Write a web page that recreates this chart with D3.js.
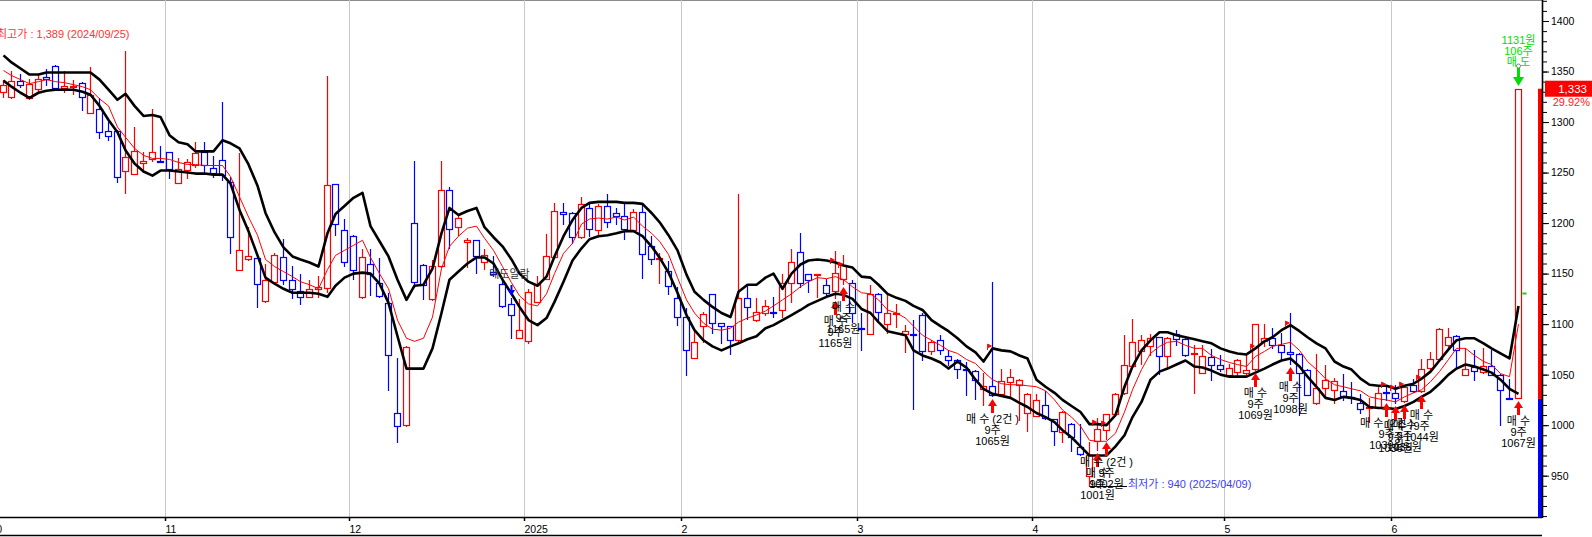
<!DOCTYPE html>
<meta charset="utf-8">
<style>
body { margin: 0; background: #fff; }
svg { display: block; }
text { font-family: "Liberation Sans", "Noto Sans CJK KR", sans-serif; }
</style>
<body>
<script src="https://d3js.org/d3.v7.min.js"></script>
<script>
// trading sessions per month (10/02 sits just off the left edge)
var tradingDays = {
  "2024-10": [2,4,7,8,10,11,14,15,16,17,18,21,22,23,24,25,28,29,30,31],
  "2024-11": [1,4,5,6,7,8,11,12,13,14,15,18,19,20,21,22,25,26,27,28,29],
  "2024-12": [2,3,4,5,6,9,10,11,12,13,16,17,18,19,20,23,24,26,27,30],
  "2025-01": [2,3,6,7,8,9,10,13,14,15,16,17,20,21,22,23,24,31],
  "2025-02": [3,4,5,6,7,10,11,12,13,14,17,18,19,20,21,24,25,26,27,28],
  "2025-03": [4,5,6,7,10,11,12,13,14,17,18,19,20,21,24,25,26,27,28,31],
  "2025-04": [1,2,3,4,7,8,9,10,11,14,15,16,17,18,21,22,23,24,25,28,29,30],
  "2025-05": [2,7,8,9,12,13,14,15,16,19,20,21,22,23,26,27,28,29,30],
  "2025-06": [2,4,5,9,10,11,12,13,16,17,18,19,20,23,24]
};
var monthLabels = ["10", "11", "12", "2025", "2", "3", "4", "5", "6"];

// daily candles from 2024-10-04
var open = [
  1330,1325,1341,1324,1333,1345,1355,1334,1335,1339,
  1309,1313,1291,1291,1252,1249,1259,1263,1261,1270,
  1240,1253,1257,1270,1255,1262,1241,1154,1164,1165,
  1123,1142,1166,1144,1133,1127,1135,1136,1239,1193,
  1187,1127,1160,1141,1121,1012,1000,1200,1159,1125,
  1158,1233,1196,1181,1183,1161,1152,1140,1120,1086,
  1083,1122,1145,1166,1211,1210,1186,1215,1193,1217,
  1210,1207,1193,1211,1177,1164,1153,1126,1107,1066,
  1098,1130,1101,1098,1084,1126,1104,1111,1112,1114,
  1141,1171,1150,1149,1139,1133,1145,1141,1096,1090,
  1130,1100,1110,1090,1090,1109,1073,1084,1068,1064,
  1056,1054,1036,1039,1031,1043,1040,1012,1009,1020,
  1006,993,1001,978,950,984,995,1011,1032,1059,
  1073,1078,1087,1068,1090,1085,1070,1052,1067,1060,
  1050,1053,1052,1056,1083,1086,1079,1072,1070,1055,
  1022,1037,1035,1034,1028,1022,1017,1018,1033,1032,
  1024,1040,1034,1057,1065,1079,1088,1050,1058,1053,
  1059,1050,1027,1027
];
var high = [
  1342,1351,1348,1343,1348,1353,1356,1351,1342,1340,
  1354,1324,1300,1292,1370,1295,1270,1313,1276,1270,
  1264,1263,1280,1280,1266,1320,1246,1269,1196,1166,
  1160,1170,1184,1158,1150,1144,1148,1346,1239,1204,
  1188,1174,1174,1165,1131,1066,1078,1261,1160,1163,
  1261,1236,1207,1185,1183,1174,1167,1145,1126,1125,
  1135,1148,1189,1220,1220,1211,1226,1219,1219,1229,
  1215,1220,1214,1218,1187,1170,1162,1137,1116,1093,
  1112,1130,1101,1098,1229,1140,1126,1124,1127,1150,
  1174,1190,1150,1150,1145,1172,1168,1144,1111,1139,
  1131,1130,1120,1099,1104,1111,1084,1089,1074,1065,
  1063,1055,1052,1142,1056,1056,1046,1032,1031,1034,
  1006,1014,1002,1001,983,1007,1011,1032,1089,1105,
  1089,1090,1087,1087,1094,1086,1079,1079,1075,1069,
  1061,1065,1071,1100,1100,1096,1091,1111,1071,1056,
  1070,1060,1047,1051,1043,1031,1027,1040,1038,1040,
  1039,1046,1065,1072,1096,1096,1089,1076,1074,1076,
  1074,1051,1046,1333
];
var low = [
  1325,1324,1335,1323,1329,1337,1332,1330,1328,1312,
  1309,1284,1282,1241,1230,1249,1251,1261,1260,1245,
  1240,1245,1256,1250,1246,1243,1170,1154,1163,1117,
  1122,1141,1140,1126,1120,1127,1127,1132,1188,1158,
  1145,1126,1129,1127,1035,983,999,1137,1125,1124,
  1157,1175,1188,1157,1151,1155,1148,1117,1086,1086,
  1081,1122,1145,1165,1199,1180,1185,1187,1187,1196,
  1199,1184,1192,1146,1160,1141,1130,1099,1050,1066,
  1082,1091,1081,1070,1083,1105,1103,1109,1107,1107,
  1122,1137,1132,1127,1127,1126,1140,1102,1074,1090,
  1104,1091,1097,1072,1016,1064,1070,1070,1060,1047,
  1030,1026,1020,1029,1030,1028,1005,994,1009,1006,
  980,983,974,970,940,975,986,1010,1031,1058,
  1061,1069,1051,1056,1079,1068,1032,1052,1045,1054,
  1050,1048,1051,1055,1078,1076,1065,1061,1010,1030,
  1021,1027,1022,1025,1022,1012,1003,1017,1025,1022,
  1023,1033,1033,1056,1065,1075,1058,1050,1045,1052,
  1050,1000,1026,1027
];
var close = [
  1337,1341,1337,1338,1343,1343,1334,1336,1336,1325,
  1327,1290,1286,1246,1265,1271,1261,1270,1260,1254,
  1254,1260,1269,1257,1250,1248,1186,1173,1167,1140,
  1144,1168,1144,1135,1127,1135,1137,1238,1199,1161,
  1154,1166,1150,1128,1069,999,1077,1142,1139,1158,
  1233,1194,1205,1183,1167,1168,1150,1118,1109,1094,
  1132,1140,1167,1212,1209,1186,1219,1194,1217,1201,
  1207,1194,1211,1169,1164,1165,1138,1107,1074,1082,
  1110,1101,1098,1084,1126,1117,1112,1118,1111,1141,
  1161,1141,1144,1150,1131,1151,1159,1111,1095,1130,
  1112,1111,1111,1093,1089,1073,1082,1074,1064,1056,
  1055,1045,1039,1030,1044,1048,1045,1031,1025,1007,
  994,1013,988,971,970,996,1011,1031,1060,1082,
  1084,1086,1068,1086,1085,1069,1071,1068,1060,1056,
  1057,1064,1055,1100,1086,1079,1072,1070,1052,1030,
  1037,1045,1044,1029,1027,1016,1018,1032,1032,1027,
  1038,1034,1056,1065,1095,1087,1074,1056,1054,1059,
  1050,1035,1026,1333
];

// envelope lines and moving average
var upper = [
  1366,1359,1353,1347,1347,1349,1349,1349,1349,1349,
  1349,1342,1332,1322,1328,1316,1306,1307,1305,1287,
  1280,1278,1271,1271,1271,1282,1279,1274,1258,1237,
  1210,1191,1176,1167,1164,1161,1157,1190,1209,1217,
  1225,1230,1197,1182,1167,1144,1124,1138,1139,1155,
  1190,1215,1208,1212,1215,1196,1186,1177,1164,1150,
  1142,1138,1147,1167,1187,1203,1215,1220,1221,1221,
  1221,1220,1220,1219,1210,1201,1188,1173,1149,1132,
  1124,1117,1111,1107,1132,1139,1139,1146,1150,1135,
  1150,1159,1163,1164,1163,1161,1158,1156,1147,1146,
  1139,1130,1126,1123,1118,1114,1104,1098,1093,1086,
  1078,1072,1063,1076,1074,1073,1069,1066,1045,1038,
  1032,1025,1019,1013,1001,1001,1000,1010,1038,1058,
  1074,1084,1092,1092,1089,1087,1085,1083,1081,1076,
  1073,1071,1070,1076,1083,1087,1094,1099,1093,1087,
  1081,1076,1063,1058,1055,1046,1040,1039,1039,1036,
  1039,1041,1046,1053,1064,1075,1084,1086,1086,1081,
  1076,1071,1066,1118
];
var lower = [
  1341,1335,1329,1324,1329,1331,1332,1332,1332,1330,
  1327,1316,1302,1290,1272,1259,1251,1247,1252,1252,
  1251,1250,1249,1249,1248,1248,1239,1213,1192,1168,
  1146,1140,1135,1131,1131,1131,1130,1127,1138,1146,
  1150,1151,1150,1140,1121,1088,1056,1056,1056,1076,
  1111,1144,1152,1160,1166,1166,1160,1144,1130,1117,
  1104,1099,1106,1122,1142,1163,1175,1184,1187,1188,
  1190,1192,1192,1187,1177,1166,1151,1131,1109,1094,
  1084,1078,1074,1078,1081,1085,1088,1096,1099,1104,
  1109,1114,1119,1123,1127,1130,1129,1125,1115,1111,
  1102,1093,1091,1089,1074,1069,1066,1062,1056,1063,
  1057,1045,1036,1031,1029,1027,1022,1018,1012,1008,
  1003,995,988,979,970,970,970,979,990,1008,
  1023,1045,1053,1056,1060,1064,1058,1057,1054,1050,
  1048,1048,1048,1052,1056,1060,1064,1066,1058,1048,
  1038,1027,1025,1028,1027,1025,1018,1017,1017,1016,
  1019,1023,1028,1033,1041,1050,1056,1060,1058,1055,
  1052,1045,1036,1031
];
var ma = [
  1351,1346,1342,1338,1340,1342,1340,1339,1337,1335,
  1332,1323,1316,1295,1285,1274,1267,1264,1264,1263,
  1260,1258,1258,1257,1257,1257,1246,1226,1206,1188,
  1164,1157,1152,1147,1142,1139,1135,1154,1168,1173,
  1178,1183,1166,1150,1135,1104,1086,1083,1086,1107,
  1155,1177,1187,1195,1197,1185,1173,1157,1141,1128,
  1120,1118,1130,1150,1170,1180,1199,1204,1205,1204,
  1206,1203,1206,1197,1190,1182,1169,1146,1124,1111,
  1101,1095,1094,1096,1102,1106,1109,1113,1118,1124,
  1130,1137,1142,1146,1145,1147,1144,1137,1131,1130,
  1124,1114,1111,1106,1098,1089,1084,1079,1074,1071,
  1065,1061,1053,1045,1041,1040,1040,1039,1038,1034,
  1025,1015,1008,999,985,984,984,992,1013,1035,
  1055,1071,1078,1082,1083,1079,1076,1076,1069,1065,
  1062,1060,1058,1068,1073,1078,1080,1082,1074,1063,
  1055,1046,1040,1038,1036,1034,1028,1026,1025,1023,
  1028,1032,1035,1043,1053,1065,1076,1076,1069,1063,
  1060,1051,1048,1100
];

// trade markers (candle index into the arrays above)
var buyIdx = [95, 96, 113, 125, 126, 143, 147, 158, 159, 160, 162, 173];
var buyTitle = ["매 수", "매 수", "매 수 (2건 )", "매 수", "매 수 (2건 )", "매 수", "매 수", "매 수 (2건 )", "매 수", "매 수", "매 수", "매 수"];
var buyQty = ["9주", "9주", "9주", "9주", "9주", "9주", "9주", "9주", "9주", "9주", "9주", "9주"];
var buyPrice = ["1165원", "1165원", "1065원", "1001원", "1002원", "1069원", "1098원", "1039원", "1036원", "1035원", "1044원", "1067원"];
var sellIdx = 173, sellPrice = 1131, sellLines = ["1131원", "106주", "매 도"];
var alertIdx = 58, alertText = "매도알람";
var hiLabel = "최고가 : 1,389 (2024/09/25)", hiValue = 1389;
var loIdx = 124, loLabel = "최저가 : 940 (2025/04/09)";
var prevClose = 1026;

var W = 1592, H = 537, axisX = 1542, axisY = 517;
var days = [];
Object.keys(tradingDays).forEach(function(m) {
  tradingDays[m].forEach(function(d) { days.push(m + "-" + (d < 10 ? "0" : "") + d); });
});
var candleDays = days.slice(1);
var monthStarts = Object.keys(tradingDays).map(function(m) { return m + "-" + (tradingDays[m][0] < 10 ? "0" : "") + tradingDays[m][0]; });

var step = 8.757;
var x = d3.scaleBand().domain(days).range([-10.44, -10.44 + step * days.length]).padding(0);
var y = d3.scaleLinear().domain([909.1, 1420.8]).range([axisY, 0]);
var cx = function(i) { return Math.round(x(candleDays[i]) + x.bandwidth() / 2) + 0.5; };

var svg = d3.select("body").append("svg").attr("width", W).attr("height", H);

// frame + month grid
svg.append("line").attr("x1", 0).attr("x2", axisX).attr("y1", 0.5).attr("y2", 0.5)
  .attr("stroke", "#8c8c8c");
svg.append("g").selectAll("line").data(monthStarts).join("line")
  .attr("x1", function(d) { return Math.round(x(d)) + 0.5; })
  .attr("x2", function(d) { return Math.round(x(d)) + 0.5; })
  .attr("y1", 0).attr("y2", axisY)
  .attr("stroke", "#c8c8c8");

// candles
var idx = d3.range(candleDays.length);
var col = function(i) { return close[i] >= open[i] ? "#ff0000" : "#0000ff"; };
var cg = svg.append("g");
cg.selectAll("line").data(idx).join("line")
  .attr("x1", cx).attr("x2", cx)
  .attr("y1", function(i) { return Math.round(y(high[i])); })
  .attr("y2", function(i) { return Math.round(y(low[i])) + 1; })
  .attr("stroke", col).attr("stroke-width", 1.2);
cg.selectAll("rect").data(idx).join("rect")
  .attr("x", function(i) { return cx(i) - 3; })
  .attr("width", 6)
  .attr("y", function(i) { return Math.round(y(Math.max(open[i], close[i]))) + 0.5; })
  .attr("height", function(i) {
    return Math.max(1, Math.round(y(Math.min(open[i], close[i]))) - Math.round(y(Math.max(open[i], close[i]))));
  })
  .attr("fill", "#fff").attr("stroke", col).attr("stroke-width", 1.2);

// bands + average
var lineOf = function(arr) {
  return d3.line().x(function(d, i) { return cx(i); }).y(function(d) { return y(d); })(arr);
};
svg.append("path").attr("d", lineOf(upper)).attr("fill", "none").attr("stroke", "#000")
  .attr("stroke-width", 2.6).attr("stroke-linejoin", "round");
svg.append("path").attr("d", lineOf(lower)).attr("fill", "none").attr("stroke", "#000")
  .attr("stroke-width", 2.6).attr("stroke-linejoin", "round");
svg.append("path").attr("d", lineOf(ma)).attr("fill", "none").attr("stroke", "#ff0000")
  .attr("stroke-width", 1);

// signal flags on the upper band
var flags = buyIdx.filter(function(i) { return i !== sellIdx; });
svg.append("g").selectAll("path").data(flags).join("path")
  .attr("d", function(i) {
    var fx = cx(i) - 5, fy = Math.round(y(upper[i]));
    return "M" + fx + "," + (fy + 2) + "V" + (fy - 4) + "L" + (fx + 4) + "," + (fy - 2) + "L" + fx + "," + fy + "Z";
  })
  .attr("fill", "#ff0000").attr("stroke", "#ff0000").attr("stroke-width", 0.8);

// buy annotations
var ag = svg.append("g").attr("font-size", 11).attr("text-anchor", "middle");
buyIdx.forEach(function(i, k) {
  var c = cx(i), t = Math.round(y(low[i])) + 3;
  ag.append("path")
    .attr("d", "M" + c + "," + t + "L" + (c + 4.5) + "," + (t + 7) + "L" + (c + 1.5) + "," + (t + 7) +
      "L" + (c + 1.5) + "," + (t + 14) + "L" + (c - 1.5) + "," + (t + 14) + "L" + (c - 1.5) + "," + (t + 7) +
      "L" + (c - 4.5) + "," + (t + 7) + "Z")
    .attr("fill", "#ff0000");
  [buyTitle[k], buyQty[k], buyPrice[k]].forEach(function(s, r) {
    ag.append("text").attr("x", c).attr("y", t + 24 + r * 11).attr("fill", "#000").text(s);
  });
});

// sell annotation
(function() {
  var c = cx(sellIdx), t = Math.round(y(high[sellIdx])) - 3;
  ag.append("path")
    .attr("d", "M" + c + "," + t + "L" + (c + 5.5) + "," + (t - 9) + "L" + (c + 1.5) + "," + (t - 9) +
      "L" + (c + 1.5) + "," + (t - 18) + "L" + (c - 1.5) + "," + (t - 18) + "L" + (c - 1.5) + "," + (t - 9) +
      "L" + (c - 5.5) + "," + (t - 9) + "Z")
    .attr("fill", "#00dd00");
  ag.append("circle").attr("cx", c).attr("cy", t - 20).attr("r", 2)
    .attr("fill", "#fff").attr("stroke", "#666").attr("stroke-width", 0.8);
  sellLines.forEach(function(s, r) {
    ag.append("text").attr("x", c).attr("y", t - 42 + r * 11).attr("fill", "#00dd00").text(s);
  });
  ag.append("line").attr("x1", c + 4).attr("x2", c + 8)
    .attr("y1", Math.round(y(sellPrice)) + 0.5).attr("y2", Math.round(y(sellPrice)) + 0.5)
    .attr("stroke", "#00dd00").attr("stroke-width", 2);
})();

// alert marker
(function() {
  var c = cx(alertIdx), t = Math.round(y(high[alertIdx])) - 2;
  ag.append("path")
    .attr("d", "M" + c + "," + t + "L" + (c + 3.5) + "," + (t - 6) + "L" + (c + 1) + "," + (t - 6) +
      "L" + (c + 1) + "," + (t - 11) + "L" + (c - 1) + "," + (t - 11) + "L" + (c - 1) + "," + (t - 6) +
      "L" + (c - 3.5) + "," + (t - 6) + "Z")
    .attr("fill", "#0000ff");
  ag.append("text").attr("x", c - 2).attr("y", t - 18).attr("fill", "#333").text(alertText);
})();

// high / low captions
svg.append("text").attr("x", -3).attr("y", Math.round(y(hiValue)) + 6)
  .attr("font-size", 11).attr("fill", "#ff3333").text(hiLabel);
var loY = Math.round(y(low[loIdx])) + 0.5;
svg.append("line").attr("x1", cx(loIdx)).attr("x2", 1127).attr("y1", loY).attr("y2", loY)
  .attr("stroke", "#000");
svg.append("text").attr("x", 1128).attr("y", loY + 1)
  .attr("font-size", 11).attr("fill", "#3c3cff").text(loLabel);

// x axis
var xAxis = d3.axisBottom(x).tickValues(monthStarts).tickSize(4).tickPadding(5)
  .tickFormat(function(d, i) { return monthLabels[i]; });
var xg = svg.append("g").attr("transform", "translate(0," + axisY + ")").call(xAxis);
xg.select(".domain").remove();
xg.selectAll(".tick").attr("transform", function(d) { return "translate(" + (Math.round(x(d)) + 0.5) + ",0)"; });
xg.selectAll(".tick line").attr("stroke", "#000").attr("stroke-width", 1.5);
xg.selectAll(".tick text").attr("text-anchor", "start").attr("x", 0)
  .attr("font-size", 10.5).attr("font-family", "Liberation Sans, sans-serif").attr("fill", "#000");
svg.append("line").attr("x1", 0).attr("x2", axisX).attr("y1", axisY + 0.5).attr("y2", axisY + 0.5)
  .attr("stroke", "#000").attr("stroke-width", 1.6);
svg.append("line").attr("x1", 0).attr("x2", axisX).attr("y1", 535.5).attr("y2", 535.5)
  .attr("stroke", "#000").attr("stroke-width", 1.6);

// price bar beside the y axis
var last = close[close.length - 1];
svg.append("rect").attr("x", axisX - 4).attr("width", 4)
  .attr("y", y(last)).attr("height", y(prevClose) - y(last)).attr("fill", "#ff0000");
svg.append("rect").attr("x", axisX - 4).attr("width", 4)
  .attr("y", y(prevClose)).attr("height", axisY - y(prevClose)).attr("fill", "#0000ff");

// y axis
var yMinor = d3.axisRight(y).tickValues(d3.range(910, 1421, 10)).tickSize(5).tickFormat("");
var ym = svg.append("g").attr("transform", "translate(" + axisX + ",0)").call(yMinor);
ym.select(".domain").remove();
var yMajor = d3.axisRight(y).tickValues(d3.range(950, 1401, 50)).tickSize(7).tickPadding(2)
  .tickFormat(d3.format("d"));
var yg = svg.append("g").attr("transform", "translate(" + axisX + ",0)").call(yMajor);
yg.select(".domain").remove();
yg.selectAll(".tick text").attr("font-size", 10.5).attr("font-family", "Liberation Sans, sans-serif").attr("fill", "#000");
svg.append("line").attr("x1", axisX + 0.5).attr("x2", axisX + 0.5).attr("y1", 0).attr("y2", axisY + 1)
  .attr("stroke", "#000").attr("stroke-width", 1.6);

// current price tag
var py = y(last);
svg.append("rect").attr("x", axisX + 3).attr("y", py - 8).attr("width", W - axisX - 3).attr("height", 16)
  .attr("fill", "#ff0000");
svg.append("text").attr("x", 1587).attr("y", py + 4).attr("text-anchor", "end")
  .attr("font-size", 11.5).attr("fill", "#fff").text(d3.format(",")(last));
svg.append("text").attr("x", 1590).attr("y", py + 17).attr("text-anchor", "end")
  .attr("font-size", 11).attr("fill", "#ff2020")
  .text(d3.format(".2f")((last / prevClose - 1) * 100) + "%");
</script>
</body>
